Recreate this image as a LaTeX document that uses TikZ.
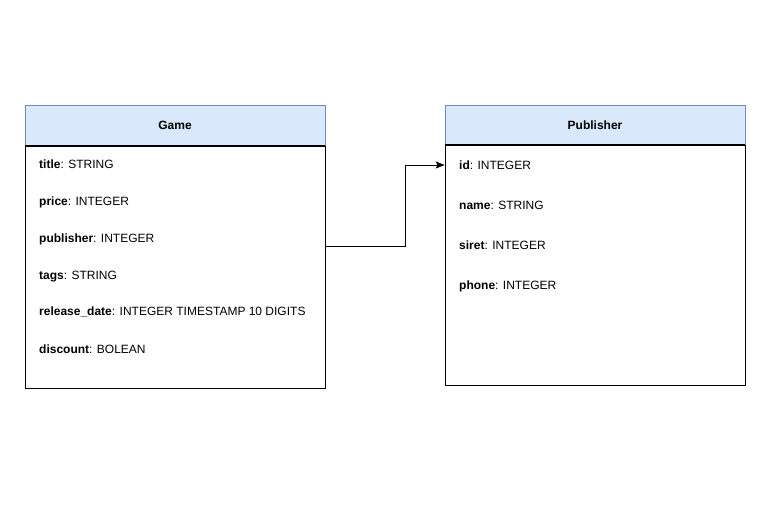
\documentclass[tikz,border=0pt]{standalone}
\usepackage{fontspec}
\setmainfont{Liberation Sans}
\usepackage{xcolor}
\usetikzlibrary{arrows.meta}
\definecolor{headfill}{HTML}{DAE8FC}
\definecolor{headline}{HTML}{6C8EBF}
\tikzset{
  tablehead/.style={draw=headline,fill=headfill,line width=0.75pt,minimum width=300pt,inner sep=0pt,font=\fontsize{12}{14}\selectfont\bfseries},
  tablebody/.style={draw=black,line width=0.75pt,minimum width=300pt,inner sep=0pt},
  field/.style={anchor=base west,inner sep=0pt,font=\fontsize{12}{14}\selectfont}
}

\begin{document}
\begin{tikzpicture}[x=1pt,y=-1pt]
\useasboundingbox (0,0) rectangle (771,531);

% Game table
\node[tablehead,minimum height=41pt] (gamehead) at (175,125.5) {Game};
\node[tablebody,minimum height=242pt] (gamebody) at (175,267) {};
\draw[line width=0.75pt] (gamebody.north west) -- (gamebody.north east);
\node[field] (gtitle) at (39,168.5) {\textbf{title}: STRING};
\node[field] (gprice) at (39,205) {\textbf{price}: INTEGER};
\node[field] (gpublisher) at (39,242) {\textbf{publisher}: INTEGER};
\node[field] (gtags) at (39,279) {\textbf{tags}: STRING};
\node[field] (gdate) at (39,315) {\textbf{release\_date}: INTEGER TIMESTAMP 10 DIGITS};
\node[field] (gdiscount) at (39,353) {\textbf{discount}: BOLEAN};

% Publisher table
\node[tablehead,minimum height=40pt] (pubhead) at (595,125) {Publisher};
\node[tablebody,minimum height=240pt] (pubbody) at (595,265) {};
\draw[line width=0.75pt] (pubbody.north west) -- (pubbody.north east);
\node[field] (pid) at (459,169.5) {\textbf{id}: INTEGER};
\node[field] (pname) at (459,209.5) {\textbf{name}: STRING};
\node[field] (psiret) at (459,249.5) {\textbf{siret}: INTEGER};
\node[field] (pphone) at (459,289.5) {\textbf{phone}: INTEGER};

% relation
\coordinate (gout) at (gamebody.east |- 0,246);
\coordinate (pin) at (pubbody.west |- 0,165);
\draw[line width=0.75pt,-{Stealth[length=9pt,width=7pt,inset=2pt]}] (gout) -- ++(80,0) |- (pin);
\end{tikzpicture}
\end{document}
